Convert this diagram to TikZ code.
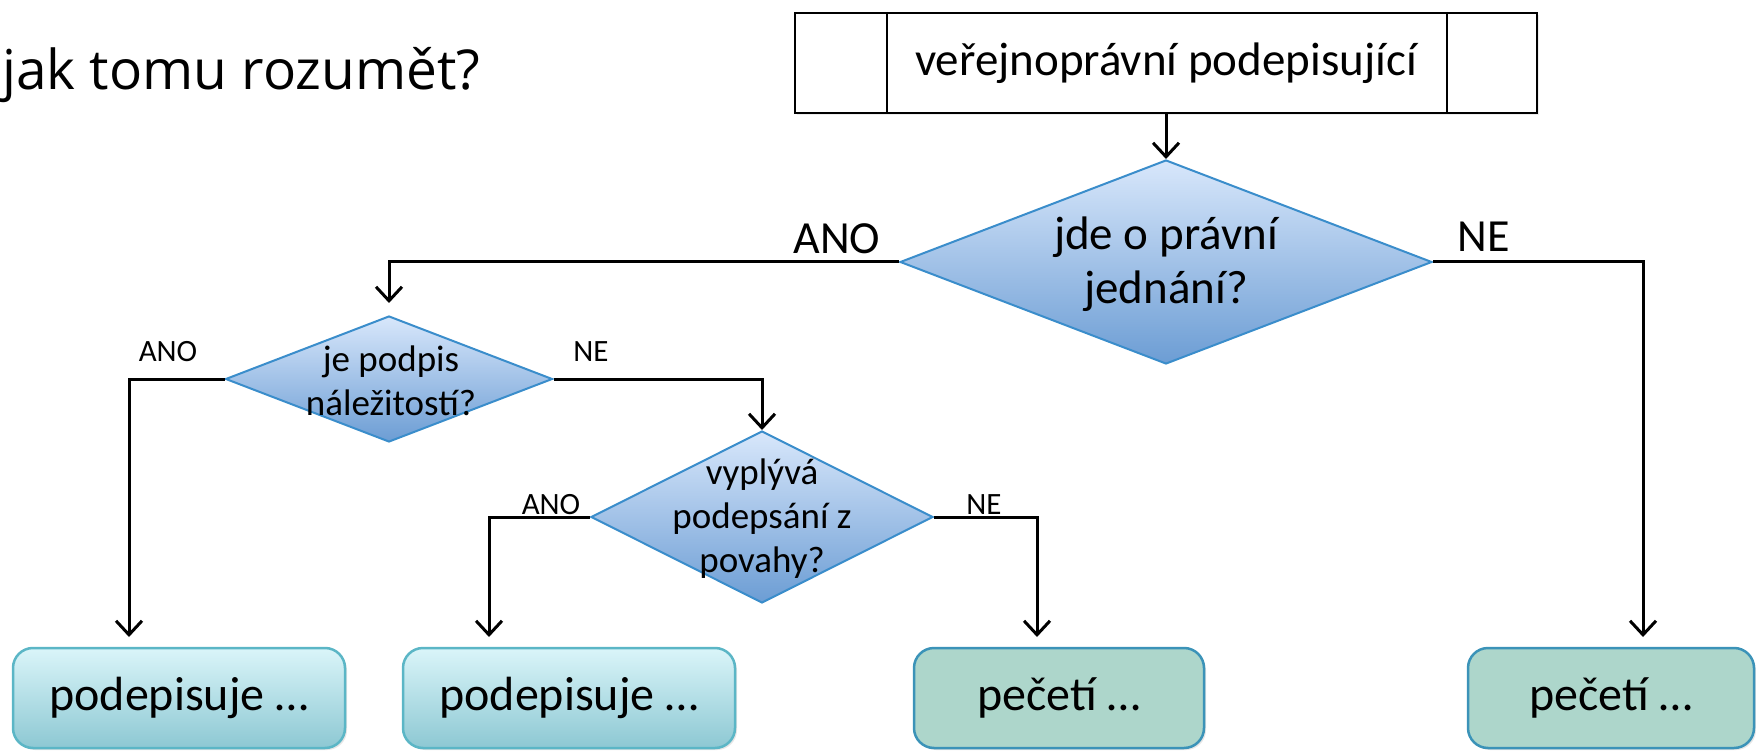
\documentclass[tikz,border=0pt]{standalone}
\usepackage{fontspec}
\setmainfont{Carlito}
\newfontfamily\titlefont{Open Sans}
\usetikzlibrary{arrows.meta,shapes.geometric,shadows}
\definecolor{dtop}{HTML}{D8E7FB}
\definecolor{dbot}{HTML}{6C9DD4}
\definecolor{dline}{HTML}{3A8DCB}
\definecolor{ctop}{HTML}{DAF5F9}
\definecolor{cbot}{HTML}{8DC8D3}
\definecolor{cline}{HTML}{5BB6C6}
\definecolor{gfill}{HTML}{ADD6CB}
\definecolor{gline}{HTML}{3B93B8}
\begin{document}
\begin{tikzpicture}[x=1pt,y=-1pt,
  bigtext/.style={font=\fontsize{47}{54}\selectfont, align=center, inner sep=0pt},
  smalltext/.style={font=\fontsize{37}{44}\selectfont, align=center, inner sep=0pt},
  lbl/.style={font=\fontsize{31}{36}\selectfont, inner sep=0pt},
  biglbl/.style={font=\fontsize{46}{54}\selectfont, inner sep=0pt},
  decision/.style={diamond, draw=dline, line width=2pt, top color=dtop, bottom color=dbot, inner sep=0pt},
  procbox/.style={draw=black, line width=2pt, fill=white, rectangle, inner sep=0pt,
    drop shadow={opacity=0.15, shadow xshift=2pt, shadow yshift=-2pt}},
  cyanbox/.style={rounded corners=20pt, draw=cline, line width=2.5pt, top color=ctop, bottom color=cbot,
    minimum height=100pt, inner sep=0pt, font=\fontsize{48}{56}\selectfont,
    drop shadow={opacity=0.2, shadow xshift=2pt, shadow yshift=-2pt}},
  greenbox/.style={rounded corners=20pt, draw=gline, line width=2.5pt, fill=gfill,
    minimum height=100pt, inner sep=0pt, font=\fontsize{48}{56}\selectfont,
    drop shadow={opacity=0.2, shadow xshift=2pt, shadow yshift=-2pt}},
  arr/.style={draw=black, line width=3pt, -{Straight Barb[length=14pt,width=26pt]}},
]
\path[use as bounding box] (0,0) rectangle (1756,751);

% title
\node[anchor=base west, inner sep=0pt, font=\titlefont\fontsize{55}{64}\selectfont] (title) at (2,90) {jak tomu rozumět?};

% top process box
\node[procbox, minimum width=742pt, minimum height=100pt, font=\fontsize{47}{56}\selectfont] (top) at (1166,63) {veřejnoprávní podepisující};
\draw[line width=2pt] ([xshift=93pt]top.north west) -- ([xshift=93pt]top.south west);
\draw[line width=2pt] ([xshift=-91pt]top.north east) -- ([xshift=-91pt]top.south east);

% decisions
\node[decision, minimum width=532pt, minimum height=204pt] (d1) at (1166,262) {};
\node[bigtext] (d1t) at ([yshift=-2pt]d1.center) {jde o právní\\jednání?};

\node[decision, minimum width=327pt, minimum height=126pt] (d2) at (389,379) {};
\node[smalltext] (d2t) at ([xshift=2pt,yshift=-2pt]d2.center) {je podpis\\náležitostí?};

\node[decision, minimum width=342pt, minimum height=172pt] (d3) at (762,517) {};
\node[smalltext] (d3t) at ([yshift=-2pt]d3.center) {vyplývá\\podepsání z\\povahy?};

% bottom boxes
\node[cyanbox, minimum width=332pt] (b1) at (179,698) {podepisuje …};
\node[cyanbox, minimum width=332pt] (b2) at (569,698) {podepisuje …};
\node[greenbox, minimum width=290pt] (b3) at (1059,698) {pečetí …};
\node[greenbox, minimum width=286pt] (b4) at (1611,698) {pečetí …};

% arrow tips
\coordinate (t0) at (389,303);
\coordinate (t1) at (129,637);
\coordinate (t2) at (489,637);
\coordinate (t3) at (1037,637);
\coordinate (t4) at (1643,637);

% connectors
\draw[arr] (top.south) -- (d1.north);
\draw[arr] (d1.west) -| (t0);
\draw[arr] (d1.east) -| (t4);
\draw[arr] (d2.west) -| (t1);
\draw[arr] (d2.east) -| (d3.north);
\draw[arr] (d3.west) -| (t2);
\draw[arr] (d3.east) -| (t3);

% labels
\node[biglbl] (l1) at (837,239) {ANO};
\node[biglbl] (l2) at (1484,237) {NE};
\node[lbl] (l3) at (168,352) {ANO};
\node[lbl] (l4) at (591,352) {NE};
\node[lbl] (l5) at (551,505) {ANO};
\node[lbl] (l6) at (984,505) {NE};
\end{tikzpicture}
\end{document}
